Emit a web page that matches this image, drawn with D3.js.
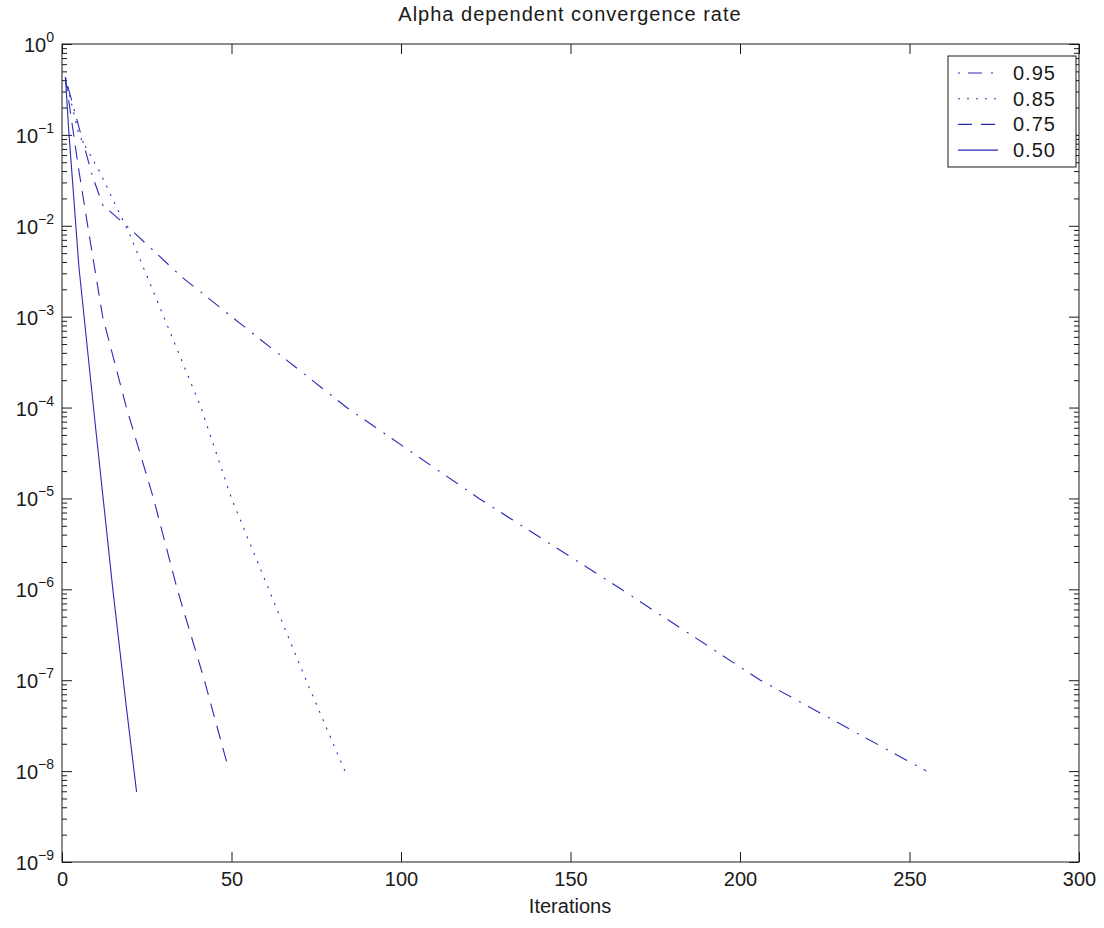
<!DOCTYPE html>
<meta charset="utf-8">
<html>
<script src="https://d3js.org/d3.v7.min.js"></script>
<style>
    body { margin: 0; background: #fff; }
    text { font-family: "Liberation Sans", Arial, Helvetica, sans-serif; fill: #1a1a1a; }
</style>
<body>
<div id="chart"></div>
<script>
// values (iteration, residual)
var iters95 = [1, 4, 9, 12, 20, 35, 50, 84, 123, 165, 206, 255];
var resid95 = [4.3e-1, 1.66e-1, 3.5e-2, 1.7e-2, 9.3e-3, 2.8e-3, 1e-3, 1e-4, 1e-5, 1e-6, 1e-7, 1e-8];

var iters85 = [1, 5, 11, 20, 30, 41, 50, 61, 72, 84];
var resid85 = [4.3e-1, 1e-1, 4e-2, 8e-3, 1e-3, 1e-4, 1e-5, 1e-6, 1e-7, 9e-9];

var iters75 = [1, 3, 5, 8, 12, 19, 27, 34, 42, 49];
var resid75 = [4.3e-1, 1.3e-1, 4e-2, 8e-3, 1e-3, 1e-4, 1e-5, 1e-6, 1e-7, 1.1e-8];

var iters50 = [1, 2, 5, 10, 15, 19, 22];
var resid50 = [4.3e-1, 1.1e-1, 3.5e-3, 5.6e-5, 1e-6, 5e-8, 5.9e-9];

var seriesNames = ["0.95", "0.85", "0.75", "0.50"];
var xTicks = [0, 50, 100, 150, 200, 250, 300];
var yExponents = [0, -1, -2, -3, -4, -5, -6, -7, -8, -9];

var width = 1104, height = 928;
var margin = { top: 44, right: 25, bottom: 66, left: 62 };
var innerW = width - margin.left - margin.right,
    innerH = height - margin.top - margin.bottom;

var lineColor = "#2a2ab4";
var dashes = ["2,8,14,9", "2,7", "14,9", null];

var svg = d3.select("#chart").append("svg")
    .attr("width", width)
    .attr("height", height);

svg.append("rect").attr("width", width).attr("height", height).attr("fill", "#fff");

var x = d3.scaleLinear().domain([0, 300]).range([margin.left, margin.left + innerW]);
var y = d3.scaleLog().domain([1e-9, 1]).range([margin.top + innerH, margin.top]);

// minor log ticks 2..9 for each decade
var minor = [];
yExponents.forEach(function (e) {
    if (e === 0) return;
    for (var m = 2; m <= 9; m++) minor.push(m * Math.pow(10, e));
});
var major = yExponents.map(function (e) { return Math.pow(10, e); });

function styleAxis(g) {
    g.select(".domain").remove();
    g.selectAll("line").attr("stroke", "#1a1a1a");
}

// bottom / top
svg.append("g")
    .attr("transform", "translate(0," + (margin.top + innerH) + ")")
    .call(d3.axisBottom(x).tickValues(xTicks).tickSize(-10).tickPadding(10))
    .call(styleAxis)
    .selectAll("text").style("font-size", "20px").attr("fill", "#1a1a1a");
svg.append("g")
    .attr("transform", "translate(0," + margin.top + ")")
    .call(d3.axisTop(x).tickValues(xTicks).tickSize(-10).tickFormat(""))
    .call(styleAxis);

// left / right, major + minor
[[d3.axisLeft, margin.left], [d3.axisRight, margin.left + innerW]].forEach(function (a) {
    svg.append("g")
        .attr("transform", "translate(" + a[1] + ",0)")
        .call(a[0](y).tickValues(major).tickSize(-10).tickFormat(""))
        .call(styleAxis);
    svg.append("g")
        .attr("transform", "translate(" + a[1] + ",0)")
        .call(a[0](y).tickValues(minor).tickSize(-5).tickFormat(""))
        .call(styleAxis);
});

// y labels 10^n
var yl = svg.append("g").selectAll("text")
    .data(yExponents).enter().append("text")
    .attr("x", 54)
    .attr("y", function (e) { return y(Math.pow(10, e)) + 8; })
    .attr("text-anchor", "end");
yl.append("tspan").style("font-size", "20px").text("10");
yl.append("tspan").style("font-size", "14px").attr("dy", -10)
    .text(function (e) { return e === 0 ? "0" : "\u2212" + (-e); });

// box
svg.append("rect")
    .attr("x", margin.left).attr("y", margin.top)
    .attr("width", innerW).attr("height", innerH)
    .attr("fill", "none").attr("stroke", "#1a1a1a").attr("stroke-width", 1);

// lines
var series = [
    d3.zip(iters95, resid95),
    d3.zip(iters85, resid85),
    d3.zip(iters75, resid75),
    d3.zip(iters50, resid50)
];
var line = d3.line()
    .x(function (d) { return x(d[0]); })
    .y(function (d) { return y(d[1]); });

svg.append("g").selectAll("path")
    .data(series).enter().append("path")
    .attr("d", line)
    .attr("fill", "none")
    .attr("stroke", lineColor)
    .attr("stroke-width", 1.1)
    .attr("stroke-dasharray", function (d, i) { return dashes[i]; });

// legend
var lg = svg.append("g").attr("transform", "translate(948,56)");
lg.append("rect").attr("width", 128).attr("height", 111)
    .attr("fill", "#fff").attr("stroke", "#1a1a1a");
var rows = lg.selectAll("g.row").data(seriesNames).enter().append("g")
    .attr("transform", function (d, i) { return "translate(0," + (17 + i * 25.7) + ")"; });
rows.append("line")
    .attr("x1", 10).attr("x2", 50)
    .attr("stroke", lineColor).attr("stroke-width", 1.1)
    .attr("stroke-dasharray", function (d, i) { return dashes[i]; });
rows.append("text")
    .attr("x", 65).attr("y", 7)
    .style("font-size", "20px")
    .style("letter-spacing", "1px")
    .text(function (d) { return d; });

// title and axis label
svg.append("text")
    .attr("x", 570).attr("y", 21)
    .attr("text-anchor", "middle")
    .style("font-size", "20px")
    .style("letter-spacing", "1px")
    .text("Alpha dependent convergence rate");
svg.append("text")
    .attr("x", 570).attr("y", 913)
    .attr("text-anchor", "middle")
    .style("font-size", "20px")
    .text("Iterations");
</script>
</body>
</html>
